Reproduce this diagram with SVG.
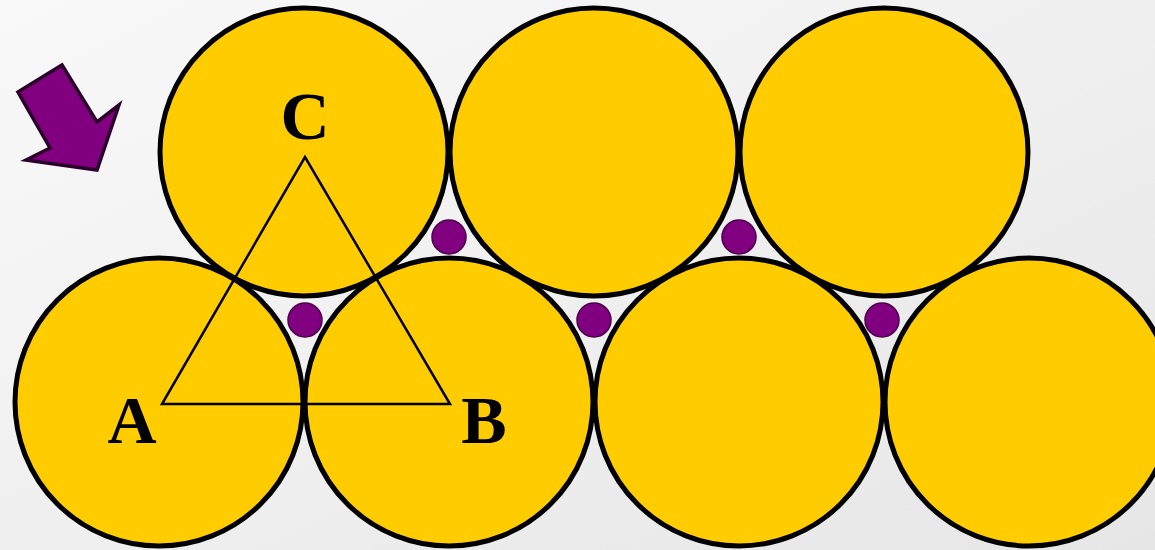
<svg xmlns="http://www.w3.org/2000/svg" width="1155" height="550" viewBox="0 0 1155 550">
<defs>
<linearGradient id="bg" x1="0" y1="0" x2="1" y2="1">
<stop offset="0" stop-color="#f9f9f9"/>
<stop offset="1" stop-color="#e6e6e6"/>
</linearGradient>
<style>
.big{fill:#FFCC00;stroke:#000;stroke-width:5}
.small{fill:#800080;stroke:#4a004a;stroke-width:1.5}
.lbl{font-family:"Liberation Serif","Times New Roman",serif;font-weight:bold;font-size:68px;fill:#000}
</style>
</defs>
<rect width="1155" height="550" fill="url(#bg)"/>
<g id="arrow">
<polygon points="18,92 62,65 97,122 119,105 97,170 26,160 50,148" fill="#800080" stroke="#2a002a" stroke-width="3.5" stroke-linejoin="miter"/>
</g>
<g id="bottom-row">
<circle id="b1" class="big" cx="159" cy="402" r="144"/>
<circle id="b2" class="big" cx="449" cy="402" r="144"/>
<circle id="b3" class="big" cx="739" cy="402" r="144"/>
<circle id="b4" class="big" cx="1029" cy="402" r="144"/>
</g>
<g id="top-row">
<circle id="t1" class="big" cx="304" cy="152" r="144"/>
<circle id="t2" class="big" cx="594" cy="152" r="144"/>
<circle id="t3" class="big" cx="884" cy="152" r="144"/>
</g>
<g id="small-balls">
<circle class="small" cx="449" cy="237" r="17"/>
<circle class="small" cx="739" cy="237" r="17"/>
<circle class="small" cx="305" cy="320" r="17"/>
<circle class="small" cx="594" cy="320" r="17"/>
<circle class="small" cx="882" cy="320" r="17"/>
</g>
<g id="connectors">
<polygon points="162,404 450,404 305,157" fill="none" stroke="#000" stroke-width="2.5" stroke-linejoin="miter"/>
</g>
<g id="labels">
<text class="lbl" x="305" y="139" text-anchor="middle">C</text>
<text class="lbl" x="132" y="443" text-anchor="middle">A</text>
<text class="lbl" x="484" y="443" text-anchor="middle">B</text>
</g>
</svg>
